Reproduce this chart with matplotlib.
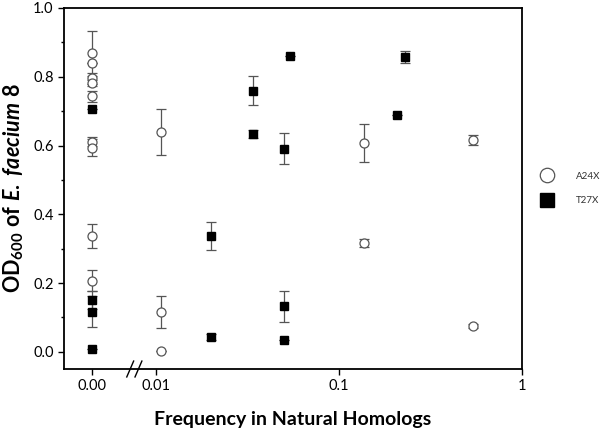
import numpy as np
import matplotlib
matplotlib.use("Agg")
import matplotlib.pyplot as plt

plt.rcParams['font.family'] = ['Lato', 'DejaVu Sans']
plt.rcParams['mathtext.fontset'] = 'custom'
plt.rcParams['mathtext.rm'] = 'Lato:bold'
plt.rcParams['mathtext.bf'] = 'Lato:bold'
plt.rcParams['mathtext.it'] = 'Lato:italic:bold'

# x position used for the "0.00" group (broken log axis)
x_zero = 0.0045

# A24X (open circles)
a_x = [x_zero]*9 + [0.0107, 0.0107, 0.0107, 0.138, 0.138, 0.541, 0.541]
a_y = [0.868, 0.841, 0.795, 0.782, 0.744, 0.611, 0.594, 0.337, 0.207,
       0.640, 0.115, 0.003, 0.608, 0.316, 0.616, 0.076]
a_err = [0.065, 0.0, 0.015, 0.01, 0.016, 0.013, 0.025, 0.036, 0.03,
         0.067, 0.046, 0.0, 0.055, 0.012, 0.015, 0.006]

# T27X (filled squares)
t_x = [x_zero]*4 + [0.020, 0.020, 0.0342, 0.0342, 0.050, 0.050, 0.050, 0.0543, 0.209, 0.231]
t_y = [0.705, 0.151, 0.117, 0.009, 0.337, 0.043, 0.760, 0.634, 0.590, 0.132, 0.033,
       0.861, 0.689, 0.858]
t_err = [0.0, 0.025, 0.046, 0.0, 0.04, 0.01, 0.043, 0.012, 0.045, 0.046, 0.0,
         0.0, 0.0, 0.017]

xticks = [x_zero, 0.01, 0.1, 1]
xticklabels = ['0.00', '0.01', '0.1', '1']

fig = plt.figure(figsize=(6, 4.32), dpi=100)
ax = fig.add_axes([0.1067, 0.1458, 0.7633, 0.8357])

ax.errorbar(a_x, a_y, yerr=a_err, fmt='o', mfc='white', mec='#555555', mew=0.9,
            ms=6.5, ecolor='#555555', elinewidth=0.9, capsize=3.5, capthick=0.9,
            label='A24X', zorder=3)
ax.errorbar(t_x, t_y, yerr=t_err, fmt='s', mfc='black', mec='black', ms=6,
            ecolor='#555555', elinewidth=0.9, capsize=3.5, capthick=0.9,
            label='T27X', zorder=3)

ax.set_xscale('log')
ax.set_xlim(10**-2.5, 1)
ax.set_ylim(-0.05, 1.0)
ax.set_xticks(xticks)
ax.set_xticklabels(xticklabels)
ax.xaxis.set_minor_locator(matplotlib.ticker.NullLocator())
ax.set_yticks([0.0, 0.2, 0.4, 0.6, 0.8, 1.0])
ax.set_yticklabels(['0.0', '0.2', '0.4', '0.6', '0.8', '1.0'])
ax.set_yticks([0.1, 0.3, 0.5, 0.7, 0.9], minor=True)
ax.tick_params(axis='both', which='major', direction='out', length=4, width=1,
               labelsize=10.5, colors='black')
ax.tick_params(axis='y', which='minor', direction='out', length=2.5, width=1)
for s in ax.spines.values():
    s.set_linewidth(1.3)

# axis break marks
for dx in (0.0, 0.018):
    ax.plot([0.137 + dx, 0.152 + dx], [-0.022, 0.022], transform=ax.transAxes,
            color='black', lw=1.0, clip_on=False)

ax.set_xlabel('Frequency in Natural Homologs', fontsize=14, fontweight='bold', labelpad=13)
ax.set_ylabel(r'$\mathrm{OD}_{\mathrm{600}}\ \mathrm{of}\ \mathit{E.\ faecium}\ \mathrm{8}$',
              fontsize=15.5, labelpad=5)

leg = ax.legend(loc='center left', bbox_to_anchor=(1.02, 0.5), frameon=False,
                fontsize=7, markerscale=1.6, handletextpad=2.2, labelspacing=1.6,
                handlelength=1.5)
for t in leg.get_texts():
    t.set_color('#333333')

fig.savefig('out.png', dpi=100)
